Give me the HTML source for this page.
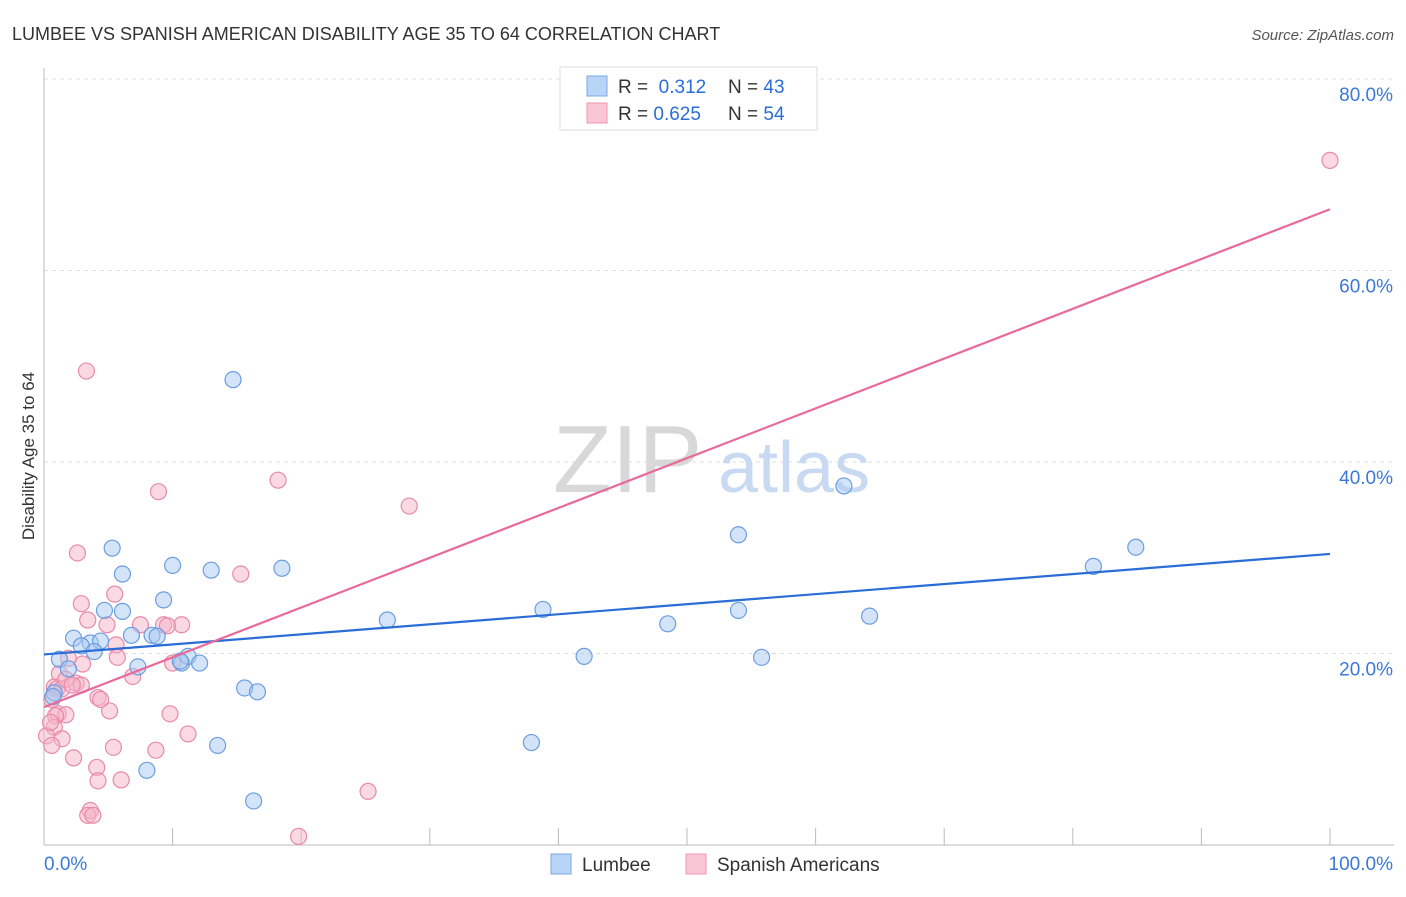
<!DOCTYPE html>
<html><head><meta charset="utf-8"><style>
body{margin:0;background:#fff;font-family:"Liberation Sans",sans-serif}
svg text{font-family:"Liberation Sans",sans-serif}
</style></head><body>
<svg width="1406" height="892" viewBox="0 0 1406 892" xmlns="http://www.w3.org/2000/svg">
<text x="12" y="40" font-size="18" fill="#333">LUMBEE VS SPANISH AMERICAN DISABILITY AGE 35 TO 64 CORRELATION CHART</text>
<text x="1394" y="40" font-size="15" fill="#555" text-anchor="end" font-style="italic">Source: ZipAtlas.com</text>
<g id="grid"></g>
<g>
<text x="553" y="492" font-size="96" fill="#d8d8d8" font-family="Liberation Serif">ZIP</text>
<text x="718" y="492" font-size="72" fill="#c8daf2">atlas</text>
</g>
<g id="axes"></g>
<g id="pts"></g>
<g id="lines"></g>
<text x="34" y="456" font-size="17" fill="#333" text-anchor="middle" transform="rotate(-90 34 456)">Disability Age 35 to 64</text>
<g>
<rect x="560" y="67" width="257" height="63" fill="#fff" stroke="#ddd"/>
<rect x="587" y="76" width="20" height="20" fill="#b8d4f6" stroke="#7aa8e4"/>
<rect x="587" y="103" width="20" height="20" fill="#f9c6d4" stroke="#ee94b0"/>
<text x="618" y="93" font-size="19" fill="#333">R = <tspan fill="#2a6dd6">&#160;0.312</tspan></text>
<text x="728" y="93" font-size="19" fill="#333">N = <tspan fill="#2a6dd6">43</tspan></text>
<text x="618" y="120" font-size="19" fill="#333">R = <tspan fill="#2a6dd6">0.625</tspan></text>
<text x="728" y="120" font-size="19" fill="#333">N = <tspan fill="#2a6dd6">54</tspan></text>
</g>
<g>
<rect x="551" y="854" width="20" height="20" fill="#b8d4f6" stroke="#7aa8e4"/>
<text x="582" y="871" font-size="19" fill="#333">Lumbee</text>
<rect x="686" y="854" width="20" height="20" fill="#f9c6d4" stroke="#ee94b0"/>
<text x="717" y="871" font-size="19" fill="#333">Spanish Americans</text>
</g>
</svg>
<script>
const yTicks=[20,40,60,80];
const yTickLabels=["20.0%","40.0%","60.0%","80.0%"];
const xTickLabels=["0.0%","100.0%"];
const lumbeeX=[14.7,62.2,54.0,84.9,81.6,5.3,6.1,10.0,13.0,18.5,9.3,4.7,6.1,38.8,54.0,64.2,48.5,26.7,2.3,3.6,4.4,2.9,3.9,6.8,8.4,8.8,1.2,1.9,7.3,10.7,11.2,12.1,42.0,55.8,0.8,15.6,16.6,13.5,37.9,8.0,16.3,0.7,10.6];
const lumbeeY=[48.6,37.5,32.4,31.1,29.1,31.0,28.3,29.2,28.7,28.9,25.6,24.5,24.4,24.6,24.5,23.9,23.1,23.5,21.6,21.1,21.3,20.8,20.2,21.9,21.9,21.8,19.4,18.4,18.6,19.0,19.7,19.0,19.7,19.6,15.9,16.4,16.0,10.4,10.7,7.8,4.6,15.5,19.2];
const spanishX=[100,3.3,8.9,18.2,28.4,2.6,15.3,2.9,5.5,3.4,4.9,7.5,9.3,10.7,9.6,5.6,5.7,1.9,1.2,3.0,6.9,2.5,2.9,0.8,1.0,1.4,0.6,1.1,1.7,0.9,0.8,1.4,4.2,5.1,9.8,11.2,10.0,5.4,8.7,2.3,4.1,4.2,6.0,25.2,3.6,3.4,3.8,19.8,0.2,0.5,0.6,1.7,4.4,2.2];
const spanishY=[71.5,49.5,36.9,38.1,35.4,30.5,28.3,25.2,26.2,23.5,23.0,23.0,23.0,23.0,22.9,20.9,19.6,19.5,17.9,18.9,17.6,16.9,16.7,16.5,16.3,16.3,15.2,13.7,13.6,13.5,12.3,11.1,15.4,14.0,13.7,11.6,19.0,10.2,9.9,9.1,8.1,6.7,6.8,5.6,3.6,3.1,3.1,0.9,11.4,12.8,10.4,17.3,15.2,16.7];
const lumbeeTrend=[19.9,30.4];
const spanishTrend=[14.4,66.4];
const NS="http://www.w3.org/2000/svg";
const X0=44,X1=1330,Y0=845,YS=191.5/20;
const sx=v=>X0+(X1-X0)*v/100, sy=v=>Y0-v*YS;
function mk(t,a,p){const e=document.createElementNS(NS,t);for(const k in a)e.setAttribute(k,a[k]);p.appendChild(e);return e;}
const grid=document.getElementById('grid'),axes=document.getElementById('axes'),pts=document.getElementById('pts'),lines=document.getElementById('lines');
yTicks.forEach((t,i)=>{
 const l=mk('line',{x1:X0,x2:1394,y1:sy(t),y2:sy(t),stroke:'#ddd','stroke-dasharray':'4 4'},grid);
 
 
 const tx=mk('text',{x:1393,y:sy(t)+22,'font-size':19,fill:'#3b78d8','text-anchor':'end'},axes);
 tx.textContent=yTickLabels[i];
 
 
});
const ya=mk('line',{x1:X0,x2:X0,y1:68,y2:Y0,stroke:'#bbb'},axes);


const xa=mk('line',{x1:X0,x2:1394,y1:Y0,y2:Y0,stroke:'#bbb'},axes);


for(let i=0;i<=10;i++){
 const t=mk('line',{x1:sx(i*10),x2:sx(i*10),y1:828,y2:Y0,stroke:'#bbb'},axes);
 
 
}
[[44,'start'],[1393,'end']].forEach((p,i)=>{
 const t=mk('text',{x:p[0],y:870,'font-size':19,fill:'#3b78d8','text-anchor':p[1]},axes);
 t.textContent=xTickLabels[i];
 
 
});
function dots(xs,ys,fill,stroke,name){
 xs.forEach((x,i)=>{
  const c=mk('circle',{cx:sx(x),cy:sy(ys[i]),r:8,fill:fill,'fill-opacity':0.5,stroke:stroke,'stroke-width':1.2},pts);
  
  
 });
}
dots(spanishX,spanishY,'#f6b4c8','#e88aa8','point-spanish');
dots(lumbeeX,lumbeeY,'#a9c9f2','#6a9de0','point-lumbee');
const lb=mk('line',{x1:sx(0),y1:sy(lumbeeTrend[0]),x2:sx(100),y2:sy(lumbeeTrend[1]),stroke:'#2a6dd6','stroke-width':2.2},lines);


const lp=mk('line',{x1:sx(0),y1:sy(spanishTrend[0]),x2:sx(100),y2:sy(spanishTrend[1]),stroke:'#e8699a','stroke-width':2.2},lines);


</script>
</body></html>
